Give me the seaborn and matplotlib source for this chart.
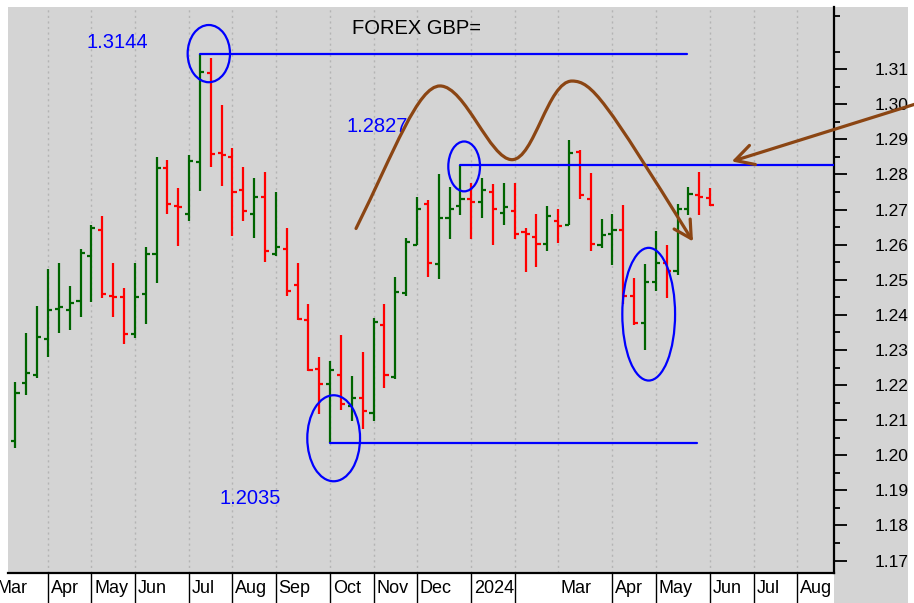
import matplotlib
matplotlib.use("Agg")
import matplotlib.pyplot as plt
import matplotlib.transforms as mtransforms
from matplotlib.patches import Ellipse, Rectangle, FancyArrowPatch
from matplotlib.path import Path
import numpy as np
import pandas as pd
import seaborn as sns

# weekly GBP/USD bars, week ending Friday
weeks = pd.date_range("2023-03-17", periods=65, freq="W-FRI")

opens = [1.2040, 1.2207, 1.2228, 1.2332, 1.2418, 1.2415, 1.2440, 1.2567, 1.2643, 1.2454,
         1.2450, 1.2346, 1.2459, 1.2572, 1.2819, 1.2711, 1.2687, 1.2834, 1.3088, 1.2860,
         1.2850, 1.2756, 1.2687, 1.2735, 1.2574, 1.2588, 1.2484, 1.2385, 1.2247, 1.2204,
         1.2230, 1.2140, 1.2164, 1.2120, 1.2371, 1.2223, 1.2461, 1.2598, 1.2716, 1.2544,
         1.2676, 1.2711, 1.2730, 1.2721, 1.2751, 1.2690, 1.2697, 1.2636, 1.2622, 1.2602,
         1.2666, 1.2655, 1.2864, 1.2730, 1.2598, 1.2631, 1.2643, 1.2454, 1.2376, 1.2495,
         1.2549, 1.2525, 1.2702, 1.2742, 1.2732]
highs = [1.2209, 1.2348, 1.2426, 1.2530, 1.2549, 1.2481, 1.2589, 1.2657, 1.2682, 1.2549,
         1.2476, 1.2549, 1.2594, 1.2850, 1.2841, 1.2761, 1.2855, 1.3144, 1.3131, 1.2998,
         1.2876, 1.2822, 1.2791, 1.2806, 1.2751, 1.2648, 1.2549, 1.2431, 1.2280, 1.2269,
         1.2343, 1.2225, 1.2293, 1.2391, 1.2431, 1.2509, 1.2619, 1.2737, 1.2728, 1.2801,
         1.2765, 1.2827, 1.2777, 1.2791, 1.2772, 1.2777, 1.2777, 1.2648, 1.2687, 1.2711,
         1.2702, 1.2899, 1.2869, 1.2805, 1.2673, 1.2687, 1.2712, 1.2504, 1.2544, 1.2638,
         1.2599, 1.2715, 1.2765, 1.2806, 1.2761]
lows = [1.2020, 1.2172, 1.2221, 1.2280, 1.2349, 1.2358, 1.2393, 1.2438, 1.2448, 1.2393,
        1.2316, 1.2334, 1.2374, 1.2492, 1.2687, 1.2596, 1.2666, 1.2753, 1.2822, 1.2767,
        1.2624, 1.2668, 1.2619, 1.2551, 1.2568, 1.2454, 1.2385, 1.2240, 1.2118, 1.2035,
        1.2129, 1.2099, 1.2074, 1.2099, 1.2193, 1.2217, 1.2454, 1.2598, 1.2508, 1.2503,
        1.2616, 1.2685, 1.2616, 1.2676, 1.2600, 1.2655, 1.2616, 1.2522, 1.2536, 1.2582,
        1.2605, 1.2655, 1.2730, 1.2582, 1.2591, 1.2542, 1.2431, 1.2370, 1.2300, 1.2469,
        1.2448, 1.2514, 1.2685, 1.2685, 1.2709]
closes = [1.2178, 1.2233, 1.2336, 1.2415, 1.2422, 1.2435, 1.2577, 1.2647, 1.2459, 1.2450,
          1.2346, 1.2450, 1.2572, 1.2819, 1.2715, 1.2706, 1.2839, 1.3091, 1.2858, 1.2855,
          1.2749, 1.2696, 1.2735, 1.2583, 1.2593, 1.2468, 1.2388, 1.2242, 1.2204, 1.2244,
          1.2145, 1.2164, 1.2126, 1.2381, 1.2230, 1.2466, 1.2608, 1.2701, 1.2549, 1.2676,
          1.2702, 1.2730, 1.2721, 1.2756, 1.2701, 1.2706, 1.2631, 1.2630, 1.2602, 1.2681,
          1.2652, 1.2860, 1.2740, 1.2602, 1.2627, 1.2643, 1.2454, 1.2376, 1.2495, 1.2549,
          1.2524, 1.2702, 1.2745, 1.2735, 1.2712]

month_names = ["Mar", "Apr", "May", "Jun", "Jul", "Aug", "Sep", "Oct", "Nov", "Dec",
               "2024", "", "Mar", "Apr", "May", "Jun", "Jul", "Aug"]
month_sep = [1, 1, 1, 1, 1, 1, 1, 1, 1, 1, 1, 1, 0, 1, 1, 1, 1, 1]

high_lbl = 1.3144
mid_lbl = 1.2827
low_lbl = 1.2035

BG = "#d4d4d4"
GREEN = "#006400"
RED = "#ff0000"
BLUE = "#0000ff"
BROWN = "#8b4513"

sns.set_theme(style="white", rc={"axes.facecolor": BG})
plt.rcParams["font.family"] = ["Liberation Sans", "DejaVu Sans"]

df = pd.DataFrame({"week": weeks, "open": opens, "high": highs,
                   "low": lows, "close": closes})
df["i"] = np.arange(len(df))
df["col"] = np.where(df["close"] >= df["open"], GREEN, RED)

fig = plt.figure(figsize=(9.14, 6.03), dpi=100)
fig.patch.set_facecolor("white")
fig.patches.append(Rectangle((834 / 914, 0), 74 / 914, 596 / 603,
                             transform=fig.transFigure, facecolor=BG,
                             edgecolor="none", zorder=-5))
ax = fig.add_axes([8 / 914, 30 / 603, 826 / 914, 566 / 603])
ax.set_facecolor(BG)

# month positions = first Friday of each month
mstarts = pd.date_range("2023-03-01", "2024-08-01", freq="MS")
first_fri = [d + pd.Timedelta(days=(4 - d.weekday()) % 7) for d in mstarts]
mpos = [(d - weeks[0]).days / 7 for d in first_fri]

ax.vlines(mpos, 0, 1, transform=ax.get_xaxis_transform(), colors="#b4b4b4",
          linestyles=(0, (1.5, 2.5)), linewidth=1.0, zorder=0)

# OHLC bars
ax.vlines(df["i"], df["low"], df["high"], colors=df["col"], linewidth=1.6, zorder=3)
ax.hlines(df["open"], df["i"] - 0.38, df["i"], colors=df["col"], linewidth=1.6, zorder=3)
ax.hlines(df["close"], df["i"], df["i"] + 0.38, colors=df["col"], linewidth=1.6, zorder=3)

ax.set_xlim(-0.68, 75.41)
ax.set_ylim(1.16647, 1.32769)

# axes styling
for s in ["left", "top"]:
    ax.spines[s].set_visible(False)
for s in ["right", "bottom"]:
    ax.spines[s].set_color("black")
    ax.spines[s].set_linewidth(1.6)
ax.set_xticks([])
ax.yaxis.tick_right()
ax.set_yticks(np.round(np.arange(1.17, 1.3101, 0.01), 2))
ax.set_yticklabels([f"{v:.2f}" for v in np.arange(1.17, 1.3101, 0.01)])
ax.set_yticks(np.round(np.arange(1.175, 1.326, 0.01), 3), minor=True)
ax.tick_params(axis="y", which="major", direction="out", length=9.5, width=1.3,
               color="black", pad=20, labelsize=12.5, labelcolor="black")
ax.tick_params(axis="y", which="minor", direction="out", length=4.5, width=1.3,
               color="black")
ax.grid(False)

# month labels under the axis
trans = ax.get_xaxis_transform()
for p, name, sep in zip(mpos, month_names, month_sep):
    if sep:
        ax.plot([p, p], [0, -0.06], transform=trans, color="black", lw=1.0,
                clip_on=False, zorder=4)
    if name:
        ax.text(p + 0.25, -0.036, name, transform=trans, fontsize=13,
                ha="left", va="baseline", color="black", clip_on=False)

# support / resistance lines and circles
ax.plot([17, 61.87], [high_lbl, high_lbl], color=BLUE, lw=1.6, zorder=4)
ax.plot([41, 75.41], [mid_lbl, mid_lbl], color=BLUE, lw=1.6, zorder=4)
ax.plot([29, 62.8], [low_lbl, low_lbl], color=BLUE, lw=1.6, zorder=4)

for cx, cy, w, h in [(17.82, 1.31441, 3.9, 0.0163),
                     (41.34, 1.28228, 2.92, 0.0142),
                     (29.32, 1.20485, 4.86, 0.0245),
                     (58.34, 1.24019, 4.86, 0.0378)]:
    ax.add_patch(Ellipse((cx, cy), w, h, fill=False, edgecolor=BLUE, lw=1.6, zorder=5))

ax.text(9.36, 1.31745, f"{high_lbl:.4f}", color=BLUE, fontsize=14.5,
        ha="center", va="center")
ax.text(33.31, 1.29371, f"{mid_lbl:.4f}", color=BLUE, fontsize=14.5,
        ha="center", va="center")
ax.text(21.66, 1.18779, f"{low_lbl:.4f}", color=BLUE, fontsize=14.5,
        ha="center", va="center")
ax.text(36.99, 1.32143, "FOREX GBP=", color="black", fontsize=14.5,
        ha="center", va="center")

# hand-drawn double-top curve
verts = [(31.38, 1.2646), (34.97, 1.2870), (37.09, 1.3052), (39.12, 1.3052),
         (41.42, 1.3052), (43.72, 1.2842), (45.75, 1.2842),
         (47.77, 1.2842), (49.07, 1.3066), (51.27, 1.3066),
         (53.12, 1.3066), (54.32, 1.3012), (62.42, 1.2609)]
codes = [Path.MOVETO] + [Path.CURVE4] * 12
curve = FancyArrowPatch(path=Path(verts, codes),
                        arrowstyle="->,head_length=0.62,head_width=0.34",
                        mutation_scale=20, color=BROWN, lw=2.3,
                        shrinkA=0, shrinkB=0, zorder=6)
ax.add_patch(curve)

ax.annotate("", xy=(65.99, 1.2837), xytext=(83.33, 1.30045),
            arrowprops=dict(arrowstyle="->,head_length=0.66,head_width=0.36",
                            mutation_scale=20, color=BROWN, lw=2.3,
                            shrinkA=0, shrinkB=0),
            annotation_clip=False, zorder=6)

fig.savefig("out.png", dpi=100)
